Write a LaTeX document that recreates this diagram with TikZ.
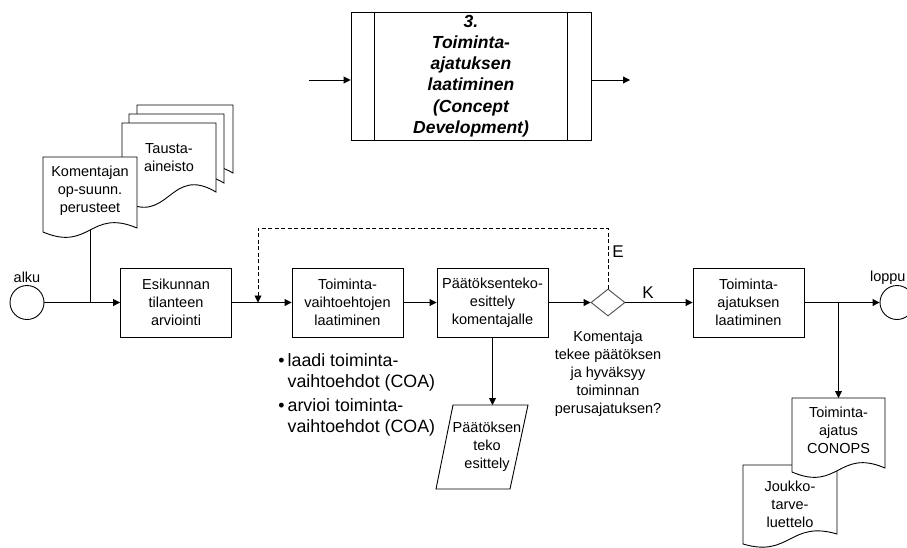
\documentclass[tikz,border=0pt]{standalone}
\usepackage{fontspec}
\setmainfont{Liberation Sans}
\usetikzlibrary{arrows.meta,shapes.geometric,calc}
\newcommand\fmain{\fontsize{14.5}{18}\selectfont}
\newcommand\ftop{\fontsize{17.5}{21.2}\selectfont\bfseries\itshape}
\newcommand\fbul{\fontsize{17.8}{21}\selectfont}
\newcommand\flab{\fontsize{17}{20}\selectfont}
\newcommand\docoutline[3]{%
  \path[docline] (#1.north west) -- ([yshift=-#2pt]#1.south west)
    .. controls ([yshift=-#2pt-#3pt]#1.south) and ([yshift=#3pt]#1.south) .. (#1.south east)
    -- (#1.north east) -- cycle;}
\tikzset{
  proc/.style={draw, fill=white, minimum width=111pt, minimum height=69pt, inner sep=0pt, align=center, font=\fmain},
  frame/.style={inner sep=0pt, outer sep=0pt},
  doctext/.style={align=center, font=\fmain, inner sep=0pt},
  docline/.style={draw, fill=white},
  arr/.style={-{Triangle[length=7pt,width=7pt]}},
  term/.style={circle, draw, minimum size=34pt, inner sep=0pt},
  lbl/.style={font=\fmain, inner sep=0pt},
  bigl/.style={font=\flab, inner sep=0pt},
  fbdash/.style={dash pattern=on 4pt off 2.5pt},
}
\begin{document}
\begin{tikzpicture}[x=1pt,y=-1pt,line width=0.9pt]
\useasboundingbox (0,0) rectangle (907,547);
\clip (0,0) rectangle (907,547);

% top process box
\node[draw, minimum width=240pt, minimum height=128pt, inner sep=0pt, align=center, font=\ftop] (cd) at (471,76)
  {3.\\Toiminta-\\ajatuksen\\laatiminen\\(Concept\\Development)};
\draw ([xshift=24pt]cd.north west) -- ([xshift=24pt]cd.south west);
\draw ([xshift=-24pt]cd.north east) -- ([xshift=-24pt]cd.south east);
\coordinate (cdin) at (309,80);
\coordinate (cdout) at (630,80);
\draw[arr] (cdin) -- (cdin -| cd.west);
\draw[arr] (cd.east |- cdout) -- (cdout);

% main flow
\node[term] (alku) at (27,302.5) {};
\node[lbl] (alkut) at (27,277) {alku};
\node[proc] (esk) at (176,302.5) {Esikunnan\\tilanteen\\arviointi};
\node[proc] (tvl) at (347.5,302.5) {Toiminta-\\vaihtoehtojen\\laatiminen};
\node[proc] (pk) at (492.5,302.5) {Päätöksenteko-\\esittely\\komentajalle};
\node[diamond, draw=black!70, minimum width=34pt, minimum height=27pt, inner sep=0pt, aspect=1.26] (dia) at (608,302.5) {};
\node[proc] (tal) at (748.5,302.5) {Toiminta-\\ajatuksen\\laatiminen};
\node[term] (loppu) at (897,302.5) {};
\node[lbl, anchor=east] (lopput) at (906,278) {loppu};
\node[bigl] (elbl) at (618,252) {E};
\node[bigl] (klbl) at (648,293) {K};

\coordinate (j1) at (91,302.5);
\coordinate (j2) at (838.5,302.5);
\coordinate (fbtop) at (258,228);
\coordinate (fbend) at (258,302.5);

% document frames (empty, named)
\node[frame, minimum width=96pt, minimum height=68pt] (tb) at (185,139) {};
\node[frame, minimum width=95pt, minimum height=69pt] (tm) at (176.5,148.5) {};
\node[frame, minimum width=94pt, minimum height=69pt] (tf) at (169,157.5) {};
\node[frame, minimum width=94pt, minimum height=71pt] (kom) at (90,192.5) {};
\node[frame, minimum width=94pt, minimum height=69pt] (jou) at (790,499.5) {};
\node[frame, minimum width=93pt, minimum height=70pt] (con) at (838.5,433) {};

% parallelogram
\node[frame, minimum width=92pt, minimum height=84pt] (ptxt) at (482,447) {};
\draw ([xshift=17pt]ptxt.north west) -- (ptxt.north east) -- ([xshift=-18pt]ptxt.south east) -- (ptxt.south west) -- cycle;
\node[doctext] (ptxt-t) at ([xshift=5pt]ptxt.center) {Päätöksen\\teko\\esittely};

% connectors
\draw[arr] (alku) -- (esk);
\draw (kom.south) -- (kom.south |- j1);
\draw[arr] (esk) -- (tvl);
\draw[arr, fbdash] (dia.north) |- (fbtop) -- (fbend);
\draw[arr] (tvl) -- (pk);
\draw[arr] (pk) -- (dia);
\draw[arr] (dia) -- (tal);
\draw[arr] (tal) -- (loppu);
\draw[arr] (j2) -- (con.north);
\draw[arr] (pk.south) -- (pk.south |- ptxt.north);

% document outlines in stacking order
\docoutline{tb}{8}{28}
\docoutline{tm}{8}{28}
\docoutline{tf}{8}{28}
\docoutline{kom}{4}{20}
\docoutline{jou}{10}{14}
\docoutline{con}{4}{20}

% document texts
\node[doctext] (tf-t) at (tf.center) {Tausta-\\aineisto};
\node[doctext] (kom-t) at ([yshift=2pt]kom.center) {Komentajan\\op-suunn.\\perusteet};
\node[doctext] (con-t) at ([yshift=3pt]con.center) {Toiminta-\\ajatus\\CONOPS};
\node[doctext] (jou-t) at ([yshift=-5pt]jou.center) {Joukko-\\tarve-\\luettelo};

% decision text
\node[doctext] (dtxt) at (608,374) {Komentaja\\tekee päätöksen\\ja hyväksyy\\toiminnan\\perusajatuksen?};

% bullet list
\node[anchor=north west, inner sep=0pt, font=\fbul] (bul) at (278,351)
  {\begin{tabular}{@{}l@{\hspace{3pt}}l@{}}
   • & laadi toiminta-\\
     & vaihtoehdot (COA)\\[3pt]
   • & arvioi toiminta-\\
     & vaihtoehdot (COA)
   \end{tabular}};
\end{tikzpicture}
\end{document}
